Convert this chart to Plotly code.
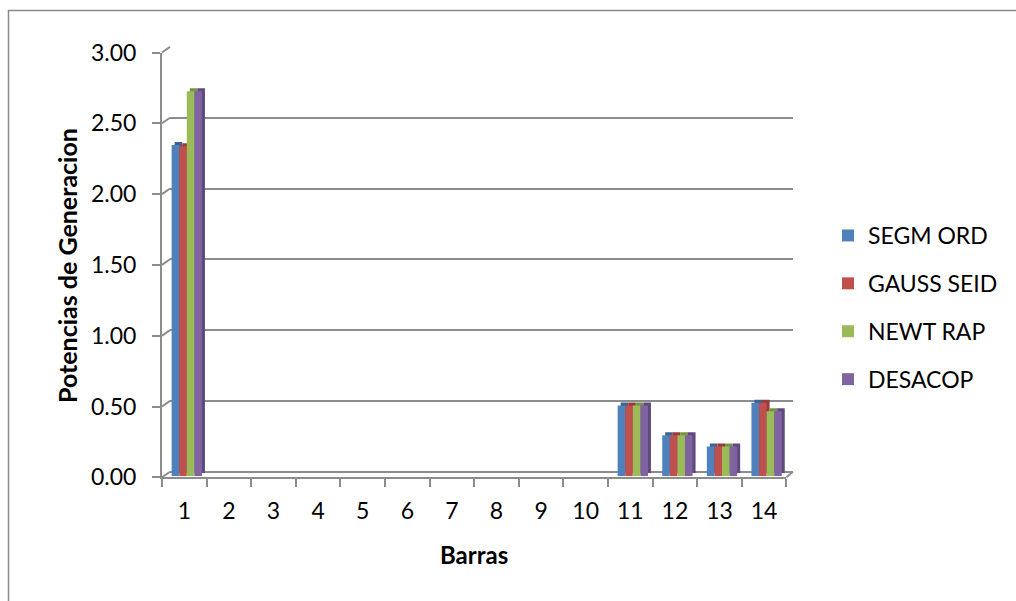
import plotly.graph_objects as go

# Generation power per bus for four load-flow methods
barras = ["1", "2", "3", "4", "5", "6", "7", "8", "9", "10", "11", "12", "13", "14"]
segm_ord = [2.34, 0, 0, 0, 0, 0, 0, 0, 0, 0, 0.50, 0.29, 0.21, 0.52]
gauss_seid = [2.33, 0, 0, 0, 0, 0, 0, 0, 0, 0, 0.50, 0.29, 0.21, 0.52]
newt_rap = [2.72, 0, 0, 0, 0, 0, 0, 0, 0, 0, 0.50, 0.29, 0.21, 0.46]
desacop = [2.72, 0, 0, 0, 0, 0, 0, 0, 0, 0, 0.50, 0.29, 0.21, 0.46]

series_names = ["SEGM ORD", "GAUSS SEID", "NEWT RAP", "DESACOP"]
series_values = [segm_ord, gauss_seid, newt_rap, desacop]
face_colors = ["#4F81BD", "#C0504D", "#9BBB59", "#8064A2"]
side_colors = ["#3A6496", "#973C3A", "#779342", "#5F4A7D"]
y_ticks = [0, 0.5, 1.0, 1.5, 2.0, 2.5, 3.0]

W, H = 1016, 601
FONT = "Lato"
GRID = "#8C8C8C"
Y_MAX = 3.0
UNIT = 141.6  # pixels per unit on the value axes


def fx(px):
    return px / W


def fy(py):
    return 1 - py / H


def ydom(base):
    return [fy(base), fy(base - UNIT * Y_MAX)]


# pseudo-3D depth planes: (left, right, floor y)
back_plane = (170, 793, 471.7)
bar_back = (167.5, 791.9, 473.3)
bar_front = (164.5, 788.9, 476.3)
front_plane = (162, 786.4, 477.3)

fig = go.Figure()

# back wall (gridlines only)
fig.add_trace(go.Scatter(x=barras, y=[0] * len(barras), mode="markers",
                         marker=dict(opacity=0), showlegend=False,
                         hoverinfo="skip", xaxis="x", yaxis="y"))

# bar depth: darker copies slightly behind the front faces
for name, vals, col in zip(series_names, series_values, side_colors):
    fig.add_trace(go.Bar(x=barras, y=vals, name=name, marker_color=col,
                         marker_line_width=0, showlegend=False,
                         hoverinfo="skip", xaxis="x2", yaxis="y2"))

# bar front faces
for i, (name, vals, col) in enumerate(zip(series_names, series_values, face_colors)):
    fig.add_trace(go.Bar(x=barras, y=vals, name=name, marker_color=col,
                         marker_line_width=0, legendgroup=f"g{i}",
                         xaxis="x3", yaxis="y3"))

# front axes carrying ticks and labels
fig.add_trace(go.Scatter(x=barras, y=[0] * len(barras), mode="markers",
                         marker=dict(opacity=0), showlegend=False,
                         hoverinfo="skip", xaxis="x4", yaxis="y4"))

hidden_x = dict(type="category", categoryorder="array", categoryarray=barras,
                range=[-0.5, len(barras) - 0.5], showgrid=False, showline=False,
                showticklabels=False, ticks="", zeroline=False, fixedrange=True)
hidden_y = dict(range=[0, Y_MAX], showgrid=False, showline=False,
                showticklabels=False, ticks="", zeroline=False, fixedrange=True)

fig.update_layout(
    width=W, height=H,
    margin=dict(l=0, r=0, t=0, b=0, autoexpand=False),
    paper_bgcolor="white",
    plot_bgcolor="rgba(0,0,0,0)",
    font=dict(family=FONT, size=23, color="#000000"),
    barmode="group", bargap=0.32, bargroupgap=0,
    xaxis=dict(hidden_x, domain=[fx(back_plane[0]), fx(back_plane[1])], anchor="y"),
    yaxis=dict(range=[0, Y_MAX], domain=ydom(back_plane[2]), anchor="x",
               tickvals=y_ticks, showgrid=True, gridcolor=GRID, gridwidth=2,
               zeroline=True, zerolinecolor=GRID, zerolinewidth=2,
               showline=False, showticklabels=False, ticks="", fixedrange=True),
    xaxis2=dict(hidden_x, domain=[fx(bar_back[0]), fx(bar_back[1])], anchor="y2"),
    yaxis2=dict(hidden_y, domain=ydom(bar_back[2]), anchor="x2"),
    xaxis3=dict(hidden_x, domain=[fx(bar_front[0]), fx(bar_front[1])], anchor="y3"),
    yaxis3=dict(hidden_y, domain=ydom(bar_front[2]), anchor="x3"),
    xaxis4=dict(type="category", categoryorder="array", categoryarray=barras,
                range=[-0.5, len(barras) - 0.5],
                domain=[fx(front_plane[0]), fx(front_plane[1])], anchor="y4",
                showgrid=False, zeroline=False, showline=True, linecolor=GRID,
                linewidth=2, ticks="outside", tickson="boundaries", ticklen=8,
                tickwidth=2, tickcolor=GRID, ticklabelstandoff=12,
                tickfont=dict(family=FONT, size=23), fixedrange=True,
                automargin=False),
    yaxis4=dict(range=[0, Y_MAX], domain=ydom(front_plane[2]), anchor="x4",
                tickvals=y_ticks, tickformat=".2f", showgrid=False,
                zeroline=False, showline=True, linecolor=GRID, linewidth=2,
                ticks="outside", ticklen=8, tickwidth=2, tickcolor=GRID,
                ticklabelstandoff=11, tickfont=dict(family=FONT, size=23),
                fixedrange=True, automargin=False),
    legend=dict(x=fx(828), y=fy(214), xanchor="left", yanchor="top",
                font=dict(family=FONT, size=23), tracegroupgap=15,
                bgcolor="rgba(0,0,0,0)", borderwidth=0),
    showlegend=True,
)

shapes = []
# slanted connectors from the front value axis to the back gridlines
for v in y_ticks:
    shapes.append(dict(type="line", xref="paper", yref="paper",
                       x0=fx(front_plane[0]), y0=fy(front_plane[2] - UNIT * v),
                       x1=fx(back_plane[0]), y1=fy(back_plane[2] - UNIT * v),
                       line=dict(color=GRID, width=2)))
# right edge of the floor
shapes.append(dict(type="line", xref="paper", yref="paper",
                   x0=fx(front_plane[1]), y0=fy(front_plane[2]),
                   x1=fx(back_plane[1]), y1=fy(back_plane[2]),
                   line=dict(color=GRID, width=2)))
# chart area frame
shapes.append(dict(type="rect", xref="paper", yref="paper",
                   x0=fx(8.5), y0=fy(640), x1=fx(1060), y1=fy(10.5),
                   line=dict(color="#8A8A8A", width=1.5), fillcolor="rgba(0,0,0,0)"))
fig.update_layout(shapes=shapes)

fig.add_annotation(text="<b>Potencias de Generacion</b>", xref="paper", yref="paper",
                   x=fx(67), y=fy(266), textangle=-90, showarrow=False,
                   xanchor="center", yanchor="middle",
                   font=dict(family=FONT, size=25, color="#000000"))
fig.add_annotation(text="<b>Barras</b>", xref="paper", yref="paper",
                   x=fx(474), y=fy(554), showarrow=False,
                   xanchor="center", yanchor="middle",
                   font=dict(family=FONT, size=24, color="#000000"))

fig.write_html("out.html")
